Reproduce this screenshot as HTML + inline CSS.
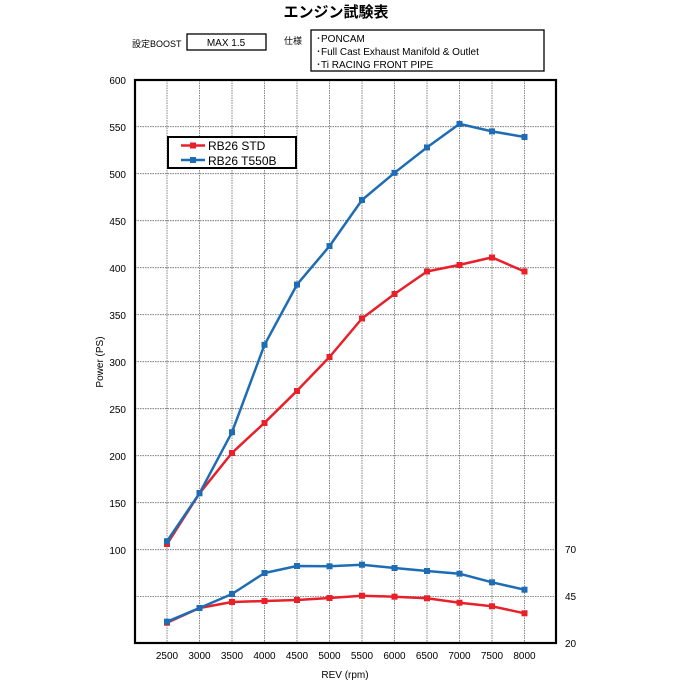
<!DOCTYPE html>
<html><head><meta charset="utf-8"><style>
body{margin:0;background:#fff;}
svg text{font-family:"Liberation Sans","Noto Sans CJK JP",sans-serif;fill:#000;}
</style></head><body>
<svg width="673" height="684" viewBox="0 0 673 684" xmlns="http://www.w3.org/2000/svg">
<text x="336" y="17" font-size="15" font-weight="bold" text-anchor="middle">エンジン試験表</text>
<text x="132" y="47" font-size="9">設定BOOST</text>
<rect x="187" y="34" width="79" height="16" fill="none" stroke="#000" stroke-width="1.3"/>
<text x="226" y="46" font-size="10" text-anchor="middle">MAX 1.5</text>
<text x="284" y="44" font-size="9">仕様</text>
<rect x="311" y="30" width="233" height="41" fill="none" stroke="#000" stroke-width="1.3"/>
<text x="316" y="42" font-size="10">･PONCAM</text>
<text x="316" y="55" font-size="10">･Full Cast Exhaust Manifold &amp; Outlet</text>
<text x="316" y="68" font-size="10">･Ti RACING FRONT PIPE</text>
<g stroke="#666" stroke-width="0.8" stroke-dasharray="1.5,1">
<line x1="167" y1="80" x2="167" y2="643"/><line x1="199.5" y1="80" x2="199.5" y2="643"/>
<line x1="232" y1="80" x2="232" y2="643"/><line x1="264.5" y1="80" x2="264.5" y2="643"/>
<line x1="297" y1="80" x2="297" y2="643"/><line x1="329.5" y1="80" x2="329.5" y2="643"/>
<line x1="362" y1="80" x2="362" y2="643"/><line x1="394.5" y1="80" x2="394.5" y2="643"/>
<line x1="427" y1="80" x2="427" y2="643"/><line x1="459.5" y1="80" x2="459.5" y2="643"/>
<line x1="492" y1="80" x2="492" y2="643"/><line x1="524.5" y1="80" x2="524.5" y2="643"/>
<line x1="135" y1="126.7" x2="556" y2="126.7"/><line x1="135" y1="173.7" x2="556" y2="173.7"/>
<line x1="135" y1="220.7" x2="556" y2="220.7"/><line x1="135" y1="267.7" x2="556" y2="267.7"/>
<line x1="135" y1="314.7" x2="556" y2="314.7"/><line x1="135" y1="361.7" x2="556" y2="361.7"/>
<line x1="135" y1="408.7" x2="556" y2="408.7"/><line x1="135" y1="455.7" x2="556" y2="455.7"/>
<line x1="135" y1="502.7" x2="556" y2="502.7"/><line x1="135" y1="549.7" x2="556" y2="549.7"/>
<line x1="135" y1="596.5" x2="556" y2="596.5"/>
</g>
<rect x="135" y="80" width="421" height="563" fill="none" stroke="#000" stroke-width="2.2"/>
<g font-size="10" text-anchor="end">
<text x="126" y="84">600</text><text x="126" y="131">550</text><text x="126" y="178">500</text>
<text x="126" y="225">450</text><text x="126" y="272">400</text><text x="126" y="319">350</text>
<text x="126" y="366">300</text><text x="126" y="413">250</text><text x="126" y="460">200</text>
<text x="126" y="507">150</text><text x="126" y="554">100</text>
</g>
<g font-size="10">
<text x="565" y="553">70</text><text x="565" y="600">45</text><text x="565" y="647">20</text>
</g>
<g font-size="10" text-anchor="middle">
<text x="167" y="659">2500</text><text x="199.5" y="659">3000</text><text x="232" y="659">3500</text>
<text x="264.5" y="659">4000</text><text x="297" y="659">4500</text><text x="329.5" y="659">5000</text>
<text x="362" y="659">5500</text><text x="394.5" y="659">6000</text><text x="427" y="659">6500</text>
<text x="459.5" y="659">7000</text><text x="492" y="659">7500</text><text x="524.5" y="659">8000</text>
<text x="345" y="678">REV (rpm)</text>
</g>
<text transform="translate(103,362) rotate(-90)" font-size="10" text-anchor="middle">Power (PS)</text>
<g fill="none" stroke-width="2.5" stroke-linejoin="round">
<polyline stroke="#e8202a" points="167,544.1 199.5,493.3 232,452.9 264.5,422.8 297,390.8 329.5,357 362,318.5 394.5,294 427,271.5 459.5,264.9 492,257.4 524.5,271.5"/>
<polyline stroke="#1e6db4" points="167,541.2 199.5,493.3 232,432.2 264.5,344.8 297,284.6 329.5,246.1 362,200 394.5,172.8 427,147.4 459.5,123.9 492,131.4 524.5,137"/>
<polyline stroke="#e8202a" points="167,622.7 199.5,608 232,602 264.5,601 297,600 329.5,598 362,595.7 394.5,596.7 427,598.3 459.5,602.7 492,606.3 524.5,613.3"/>
<polyline stroke="#1e6db4" points="167,621.7 199.5,608 232,594 264.5,573 297,566 329.5,566.3 362,564.7 394.5,568 427,571 459.5,573.7 492,582.3 524.5,589.7"/>
</g>
<g fill="#e8202a">
<rect x="164" y="541" width="6" height="6"/><rect x="196.5" y="490" width="6" height="6"/><rect x="229" y="450" width="6" height="6"/><rect x="261.5" y="420" width="6" height="6"/><rect x="294" y="388" width="6" height="6"/><rect x="326.5" y="354" width="6" height="6"/><rect x="359" y="315.5" width="6" height="6"/><rect x="391.5" y="291" width="6" height="6"/><rect x="424" y="268.5" width="6" height="6"/><rect x="456.5" y="262" width="6" height="6"/><rect x="489" y="254.5" width="6" height="6"/><rect x="521.5" y="268.5" width="6" height="6"/>
<rect x="164" y="619.7" width="6" height="6"/><rect x="196.5" y="605" width="6" height="6"/><rect x="229" y="599" width="6" height="6"/><rect x="261.5" y="598" width="6" height="6"/><rect x="294" y="597" width="6" height="6"/><rect x="326.5" y="595" width="6" height="6"/><rect x="359" y="592.7" width="6" height="6"/><rect x="391.5" y="593.7" width="6" height="6"/><rect x="424" y="595.3" width="6" height="6"/><rect x="456.5" y="599.7" width="6" height="6"/><rect x="489" y="603.3" width="6" height="6"/><rect x="521.5" y="610.3" width="6" height="6"/>
</g>
<g fill="#1e6db4">
<rect x="164" y="538.2" width="6" height="6"/><rect x="196.5" y="490.3" width="6" height="6"/><rect x="229" y="429.2" width="6" height="6"/><rect x="261.5" y="341.8" width="6" height="6"/><rect x="294" y="281.6" width="6" height="6"/><rect x="326.5" y="243.1" width="6" height="6"/><rect x="359" y="197" width="6" height="6"/><rect x="391.5" y="169.8" width="6" height="6"/><rect x="424" y="144.4" width="6" height="6"/><rect x="456.5" y="120.9" width="6" height="6"/><rect x="489" y="128.4" width="6" height="6"/><rect x="521.5" y="134" width="6" height="6"/>
<rect x="164" y="618.7" width="6" height="6"/><rect x="196.5" y="605" width="6" height="6"/><rect x="229" y="591" width="6" height="6"/><rect x="261.5" y="570" width="6" height="6"/><rect x="294" y="563" width="6" height="6"/><rect x="326.5" y="563.3" width="6" height="6"/><rect x="359" y="561.7" width="6" height="6"/><rect x="391.5" y="565" width="6" height="6"/><rect x="424" y="568" width="6" height="6"/><rect x="456.5" y="570.7" width="6" height="6"/><rect x="489" y="579.3" width="6" height="6"/><rect x="521.5" y="586.7" width="6" height="6"/>
</g>
<rect x="168" y="137" width="128" height="31" fill="#fff" stroke="#000" stroke-width="2"/>
<line x1="181" y1="145.5" x2="205" y2="145.5" stroke="#e8202a" stroke-width="2.5"/>
<rect x="190" y="142.5" width="6" height="6" fill="#e8202a"/>
<line x1="181" y1="160" x2="205" y2="160" stroke="#1e6db4" stroke-width="2.5"/>
<rect x="190" y="157" width="6" height="6" fill="#1e6db4"/>
<text x="208" y="150" font-size="12">RB26 STD</text>
<text x="208" y="165" font-size="12">RB26 T550B</text>
</svg>
</body></html>
